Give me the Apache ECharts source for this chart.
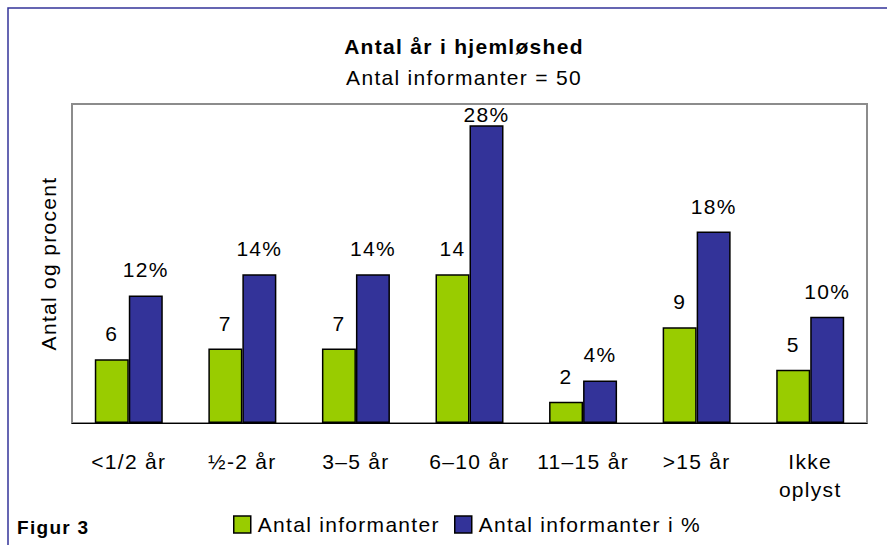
<!DOCTYPE html>
<html>
<head>
    <meta charset="utf-8"/>
    <title>Antal år i hjemløshed</title>
    <style>
        body { margin: 0; background: #fff; }
        #main { width: 887px; height: 545px; }
        /* Excel-style loose letter spacing */
        #main text { letter-spacing: 1.3px; }
    </style>
</head>
<body>
<div id="main"></div>
<script src="https://cdn.jsdelivr.net/npm/echarts@6/dist/echarts.min.js"></script>
<script type="text/javascript">
    var categories = ['<1/2 år', '½-2 år', '3–5 år', '6–10 år', '11–15 år', '>15 år', 'Ikke\noplyst'];
    var antal = [6, 7, 7, 14, 2, 9, 5];
    var procent = [12, 14, 14, 28, 4, 18, 10];
    var seriesNames = ['Antal informanter', 'Antal informanter i %'];

    var font = 'Liberation Sans, Arial, sans-serif';
    var legendText = { fontSize: 21, color: '#000', fontFamily: font, padding: [0, 0, 0, 2] };
    var legendIcon = { borderColor: '#000', borderWidth: 1.5 };

    var option = {
        animation: false,
        backgroundColor: '#ffffff',
        textStyle: { fontFamily: font },
        title: [{
            text: 'Antal år i hjemløshed',
            subtext: 'Antal informanter = 50',
            left: 459,
            textAlign: 'center',
            top: 31,
            itemGap: 10,
            textStyle: { fontSize: 21, fontWeight: 'bold', color: '#000', fontFamily: font },
            subtextStyle: { fontSize: 21, color: '#000', fontFamily: font }
        }, {
            text: 'Figur 3',
            left: 12,
            top: 513,
            textStyle: { fontSize: 19, fontWeight: 'bold', color: '#000', fontFamily: font }
        }],
        legend: [{
            data: [seriesNames[0]],
            left: 228,
            top: 509,
            itemWidth: 17,
            itemHeight: 17,
            icon: 'rect',
            itemStyle: legendIcon,
            textStyle: legendText
        }, {
            data: [seriesNames[1]],
            left: 449,
            top: 509,
            itemWidth: 17,
            itemHeight: 17,
            icon: 'rect',
            itemStyle: legendIcon,
            textStyle: legendText
        }],
        graphic: [{
            type: 'rect',
            shape: { x: 8, y: 8, width: 900, height: 560 },
            style: { fill: 'none', stroke: '#333399', lineWidth: 1.5 },
            silent: true
        }],
        grid: {
            left: 72,
            right: 20,
            top: 104,
            bottom: 122,
            show: true,
            borderColor: '#8c8c8c',
            borderWidth: 2,
            backgroundColor: '#fff'
        },
        xAxis: {
            type: 'category',
            data: categories,
            axisLine: { lineStyle: { color: '#000', width: 1 } },
            axisTick: { length: 9, lineStyle: { color: '#000' } },
            axisLabel: { color: '#000', fontSize: 21, margin: 24, lineHeight: 28, interval: 0, fontFamily: font }
        },
        yAxis: {
            type: 'value',
            min: 0,
            max: 30,
            name: 'Antal og procent',
            nameLocation: 'middle',
            nameGap: 13,
            nameTextStyle: { fontSize: 21, color: '#000', fontFamily: font },
            axisLine: { show: false },
            axisTick: { show: false },
            axisLabel: { show: false },
            splitLine: { show: false }
        },
        series: [{
            name: seriesNames[0],
            type: 'bar',
            data: antal,
            barWidth: 34,
            barGap: '0%',
            itemStyle: { color: '#99cc00', borderColor: '#000', borderWidth: 1.5 },
            label: { show: true, position: 'top', distance: 15, fontSize: 21, color: '#000', fontFamily: font }
        }, {
            name: seriesNames[1],
            type: 'bar',
            data: procent.map(function (v) {
                // Excel pulled the tallest label down inside the plot area
                return v === Math.max.apply(null, procent)
                    ? { value: v, label: { distance: 0 } }
                    : v;
            }),
            barWidth: 34,
            barGap: '0%',
            itemStyle: { color: '#333399', borderColor: '#000', borderWidth: 1.5 },
            label: {
                show: true, position: 'top', distance: 15, fontSize: 21, color: '#000', fontFamily: font,
                formatter: '{c}%'
            }
        }]
    };

    var chart = echarts.init(document.getElementById('main'), null, { renderer: 'svg' });
    chart.setOption(option);
</script>
</body>
</html>
